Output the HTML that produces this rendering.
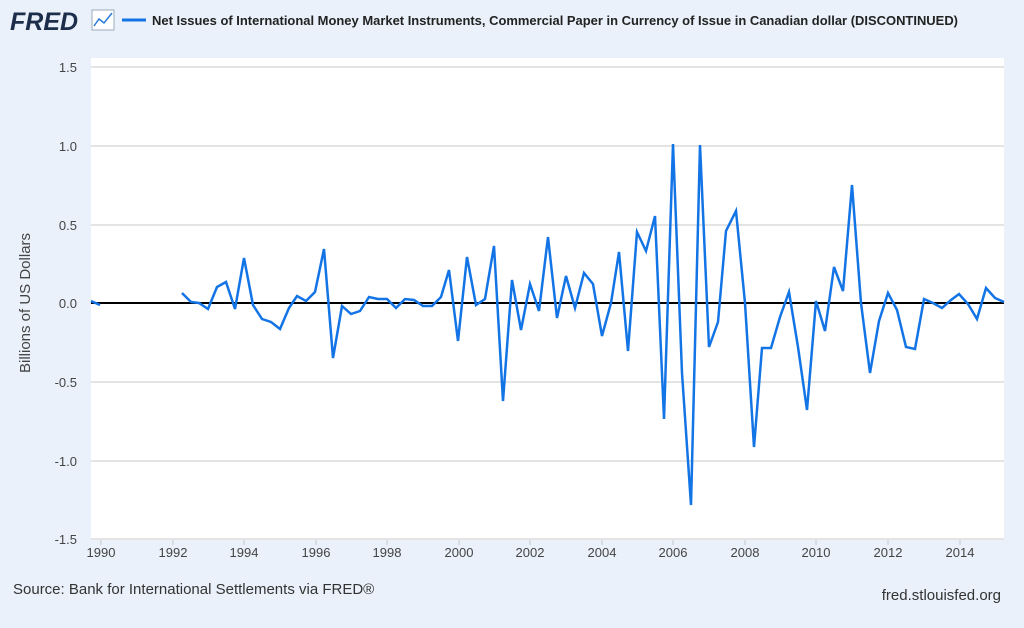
<!DOCTYPE html>
<html><head><style>
body{margin:0;width:1024px;height:623px;background:#eaf1fa;font-family:"Liberation Sans",sans-serif;overflow:hidden}
</style></head><body>
<svg width="1024" height="623" xmlns="http://www.w3.org/2000/svg" font-family="Liberation Sans, sans-serif">
<rect width="1024" height="623" fill="#eaf1fa"/>
<rect x="91" y="58" width="913" height="482" fill="#fff"/>
<text x="10" y="30" font-size="25" font-weight="bold" fill="#1c2e4a" font-style="italic">FRED</text>
<rect x="92" y="10" width="22" height="20" fill="#fff" stroke="#9ab" stroke-width="1"/>
<polyline points="94,26 99,19 104,23 112,13" fill="none" stroke="#2a7ad8" stroke-width="1.5"/>
<line x1="122" y1="20" x2="146" y2="20" stroke="#1374e6" stroke-width="3"/>
<text x="152" y="25" font-size="13" font-weight="bold" fill="#222" textLength="806" lengthAdjust="spacingAndGlyphs">Net Issues of International Money Market Instruments, Commercial Paper in Currency of Issue in Canadian dollar (DISCONTINUED)</text>
<g stroke="#c8c8c8" stroke-width="1">
<line x1="91" y1="67" x2="1004" y2="67"/><line x1="91" y1="146" x2="1004" y2="146"/><line x1="91" y1="225" x2="1004" y2="225"/><line x1="91" y1="382" x2="1004" y2="382"/><line x1="91" y1="461" x2="1004" y2="461"/><line x1="91" y1="539" x2="1004" y2="539"/>
</g>
<g font-size="13" fill="#444" text-anchor="end">
<text x="77" y="72">1.5</text><text x="77" y="151">1.0</text><text x="77" y="230">0.5</text><text x="77" y="308">0.0</text><text x="77" y="387">-0.5</text><text x="77" y="466">-1.0</text><text x="77" y="544">-1.5</text>
</g>
<text transform="translate(30,303) rotate(-90)" font-size="15" fill="#444" text-anchor="middle">Billions of US Dollars</text>
<g font-size="13" fill="#444" text-anchor="middle">
<text x="101" y="557">1990</text><text x="173" y="557">1992</text><text x="244" y="557">1994</text><text x="316" y="557">1996</text><text x="387" y="557">1998</text><text x="459" y="557">2000</text><text x="530" y="557">2002</text><text x="602" y="557">2004</text><text x="673" y="557">2006</text><text x="745" y="557">2008</text><text x="816" y="557">2010</text><text x="888" y="557">2012</text><text x="960" y="557">2014</text>
</g>
<g stroke="#c8c8c8"><line x1="101" y1="540" x2="101" y2="545"/><line x1="173" y1="540" x2="173" y2="545"/><line x1="244" y1="540" x2="244" y2="545"/><line x1="316" y1="540" x2="316" y2="545"/><line x1="387" y1="540" x2="387" y2="545"/><line x1="459" y1="540" x2="459" y2="545"/><line x1="530" y1="540" x2="530" y2="545"/><line x1="602" y1="540" x2="602" y2="545"/><line x1="673" y1="540" x2="673" y2="545"/><line x1="745" y1="540" x2="745" y2="545"/><line x1="816" y1="540" x2="816" y2="545"/><line x1="888" y1="540" x2="888" y2="545"/><line x1="960" y1="540" x2="960" y2="545"/></g>
<line x1="91" y1="303" x2="1004" y2="303" stroke="#000" stroke-width="2"/>
<g fill="none" stroke="#1374e6" stroke-width="2.5" stroke-linejoin="miter">
<polyline points="91,301 100,305"/>
<polyline points="182,293 191,302 199,303 208,309 217,287 226,282 235,309 244,258 253,305 262,319 271,322 280,329 289,308 297,296 306,301 315,292 324,249 333,358 342,306 351,314 360,311 369,297 378,299 387,299 396,308 405,299 414,300 423,306 432,306 441,297 449,270 458,341 467,257 476,305 485,299 494,246 503,401 512,280 521,330 530,284 539,311 548,237 557,318 566,276 575,308 584,273 593,284 602,336 611,303 619,252 628,351 637,232 646,251 655,216 664,419 673,144 682,373 691,505 700,145 709,347 718,322 726,231 736,211 745,303 754,447 762,348 771,348 780,317 789,292 798,347 807,410 816,301 825,331 834,267 843,291 852,185 861,303 870,373 879,321 888,293 897,310 906,347 915,349 924,299 933,303 942,308 951,300 959,294 968,304 977,319 986,288 995,298 1004,302"/>
</g>
<text x="13" y="594" font-size="15" fill="#333">Source: Bank for International Settlements via FRED®</text>
<text x="1001" y="600" font-size="15" fill="#333" text-anchor="end">fred.stlouisfed.org</text>
</svg>
</body></html>
